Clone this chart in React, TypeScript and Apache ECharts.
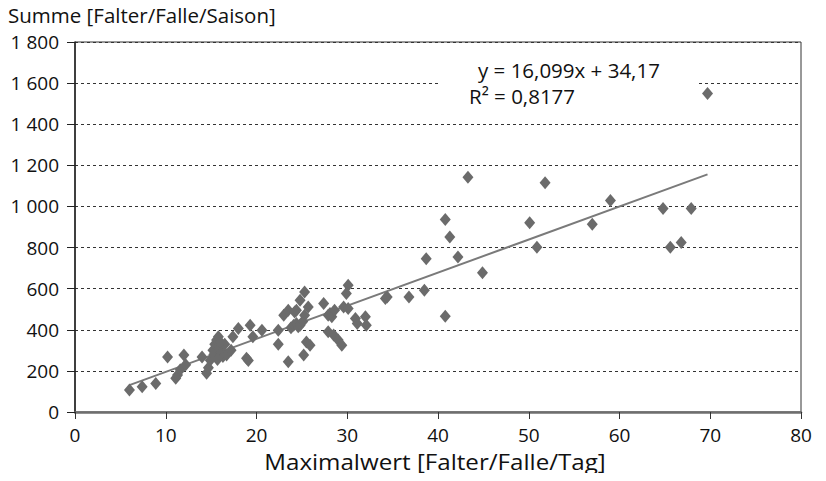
import React, { useEffect, useRef } from "react";
import * as echarts from "echarts";

// Maximalwert [Falter/Falle/Tag] vs. Summe [Falter/Falle/Saison]
const points: [number, number][] = [
  [6.0, 107], [7.4, 123], [8.9, 139], [10.2, 268], [11.1, 164], [11.3, 180],
  [11.6, 205], [12.0, 277], [12.2, 230],
  [14.0, 268], [14.5, 188], [14.7, 215], [14.9, 252], [15.2, 300], [15.4, 330],
  [15.6, 350], [15.8, 366], [15.3, 280], [15.9, 310], [16.1, 290], [16.3, 270],
  [16.5, 330], [16.7, 277], [15.7, 255], [16.0, 340], [17.4, 366], [17.2, 300],
  [18.0, 406], [18.9, 261], [19.3, 422], [19.6, 366], [19.1, 250], [20.6, 398],
  [22.4, 398], [22.4, 330], [23.0, 471], [23.5, 495], [23.5, 244], [23.8, 410],
  [24.1, 422], [24.4, 495], [24.2, 487], [24.4, 430], [24.6, 415], [24.8, 422],
  [24.8, 544], [25.1, 440], [25.3, 584], [25.7, 511], [25.3, 471], [25.5, 341],
  [25.9, 325], [25.2, 277], [27.4, 528], [27.9, 471], [28.3, 463], [27.9, 390],
  [28.5, 374], [29.0, 350], [29.4, 325], [28.1, 479], [28.6, 495], [29.6, 511],
  [30.1, 503], [30.1, 617], [29.9, 576], [30.9, 455], [31.1, 430], [32.0, 463],
  [32.1, 422], [34.2, 552], [34.4, 560], [36.8, 560], [38.5, 592], [38.7, 746],
  [40.8, 466], [40.8, 937], [41.3, 851], [42.2, 754], [43.3, 1142], [44.9, 678],
  [50.1, 921], [50.9, 802], [51.8, 1115], [57.0, 913], [59.0, 1029], [64.8, 990],
  [65.6, 802], [66.8, 824], [67.9, 990], [69.7, 1550],
];

// Linear trend: y = 16,099x + 34,17 ; R² = 0,8177
const slope = 16.099;
const intercept = 34.17;
const rSquared = "0,8177";

const yTickLabels: Record<number, string> = {
  0: "0", 200: "200", 400: "400", 600: "600", 800: "800",
  1000: "1 000", 1200: "1 200", 1400: "1 400", 1600: "1 600", 1800: "1 800",
};

const FONT = "'Open Sans', 'Noto Sans', sans-serif";
const FS = 19;
const FS_TEXT = 20.5;

export default function App() {
  const ref = useRef<HTMLDivElement>(null);

  useEffect(() => {
    if (!ref.current) return;
    const chart = echarts.init(ref.current, null, { renderer: "svg" });

    const xs = points.map((p) => p[0]);
    const xMin = Math.min(...xs);
    const xMax = Math.max(...xs);
    const trend: [number, number][] = [
      [xMin, slope * xMin + intercept],
      [xMax, slope * xMax + intercept],
    ];

    chart.setOption({
      animation: false,
      backgroundColor: "#ffffff",
      textStyle: { fontFamily: FONT },
      grid: {
        left: 75,
        right: 25,
        top: 42,
        bottom: 69,
        show: true,
        borderColor: "#333333",
        borderWidth: 1,
        backgroundColor: "transparent",
      },
      xAxis: {
        type: "value",
        min: 0,
        max: 80,
        interval: 10,
        axisLine: { show: true, onZero: false, lineStyle: { color: "#6e6e6e", width: 2.5 } },
        axisTick: { show: true, inside: false, length: 7, lineStyle: { color: "#333", width: 1 } },
        axisLabel: { color: "#111", fontSize: FS, margin: 13, fontFamily: FONT },
        splitLine: { show: false },
      },
      yAxis: {
        type: "value",
        min: 0,
        max: 1800,
        interval: 200,
        axisLine: { show: true, lineStyle: { color: "#222", width: 1.5 } },
        axisTick: { show: true, inside: false, length: 8, lineStyle: { color: "#222", width: 1 } },
        axisLabel: {
          color: "#111",
          fontSize: FS,
          margin: 16,
          fontFamily: FONT,
          formatter: (v: number) => yTickLabels[v] ?? String(v),
        },
        splitLine: {
          show: true,
          lineStyle: { color: "#333", width: 1, type: [3, 3] },
        },
      },
      series: [
        {
          type: "line",
          data: trend,
          symbol: "none",
          lineStyle: { color: "#7a7a7a", width: 2 },
          z: 2,
        },
        {
          type: "scatter",
          data: points,
          symbol: "diamond",
          symbolSize: [11, 13],
          itemStyle: { color: "#6b6b6b", opacity: 1 },
          z: 3,
        },
      ],
      graphic: [
        {
          type: "text",
          left: 8,
          top: 4,
          style: { text: "Summe [Falter/Falle/Saison]", fill: "#111", font: `${FS_TEXT}px ${FONT}` },
        },
        {
          type: "text",
          x: 435,
          y: 452,
          scaleX: 1.15,
          style: {
            text: "Maximalwert [Falter/Falle/Tag]",
            fill: "#111",
            font: `21px ${FONT}`,
            align: "center",
            verticalAlign: "top",
          },
        },
        {
          type: "rect",
          shape: { x: 441, y: 60, width: 258, height: 50 },
          style: { fill: "#ffffff" },
          z: 1,
        },
        {
          type: "text",
          x: 478,
          y: 59,
          z: 11,
          style: { text: "y = 16,099x + 34,17", fill: "#111", font: `${FS_TEXT}px ${FONT}` },
        },
        {
          type: "text",
          x: 469,
          y: 85,
          z: 11,
          style: { text: "R\u00B2 = " + rSquared, fill: "#111", font: `${FS_TEXT}px ${FONT}` },
        },
      ],
    });

    return () => chart.dispose();
  }, []);

  return <div ref={ref} style={{ width: 826, height: 481, margin: -8 }} />;
}
